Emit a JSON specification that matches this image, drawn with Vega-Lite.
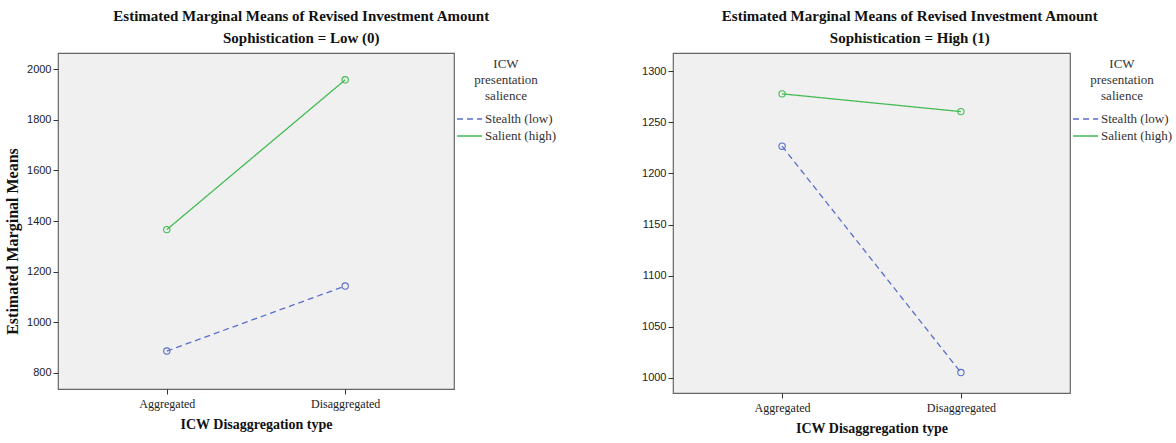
{
  "$schema": "https://vega.github.io/schema/vega-lite/v6.json",
  "padding": {"left": 3, "top": 8, "right": 2, "bottom": 4},
  "background": "white",
  "spacing": 77,
  "datasets": {
    "low": [
      {"type": "Aggregated", "salience": "Stealth (low)", "mean": 886},
      {"type": "Disaggregated", "salience": "Stealth (low)", "mean": 1143},
      {"type": "Aggregated", "salience": "Salient (high)", "mean": 1366},
      {"type": "Disaggregated", "salience": "Salient (high)", "mean": 1958}
    ],
    "high": [
      {"type": "Aggregated", "salience": "Stealth (low)", "mean": 1226.7},
      {"type": "Disaggregated", "salience": "Stealth (low)", "mean": 1005},
      {"type": "Aggregated", "salience": "Salient (high)", "mean": 1278},
      {"type": "Disaggregated", "salience": "Salient (high)", "mean": 1260.6}
    ]
  },
  "config": {
    "view": {"fill": "#f0f0f0", "stroke": "#666666", "strokeWidth": 1.2},
    "axis": {"domain": false, "grid": false, "tickColor": "#333333", "tickSize": 5, "titleFont": "Liberation Serif", "titleFontWeight": "bold", "titleFontSize": 14, "titleColor": "#111111"},
    "axisY": {"labelFont": "Liberation Sans", "labelFontSize": 11, "labelColor": "#222222", "labelPadding": 2, "format": "d"},
    "axisX": {"labelFont": "Liberation Serif", "labelFontSize": 12, "labelColor": "#222222", "labelAngle": 0, "labelPadding": 4, "titlePadding": 8},
    "title": {"font": "Liberation Serif", "fontSize": 15, "fontWeight": "bold", "color": "#111111", "subtitleFont": "Liberation Serif", "subtitleFontSize": 15, "subtitleFontWeight": "bold", "subtitleColor": "#111111", "subtitlePadding": 7, "frame": "bounds", "anchor": "middle", "offset": 7}
  },
  "hconcat": [
    {
      "title": {"text": "Estimated Marginal Means of Revised Investment Amount", "subtitle": "Sophistication = Low (0)", "dx": 18},
      "width": 396,
      "height": 336,
      "data": {"name": "low"},
      "encoding": {
        "x": {"field": "type", "type": "ordinal", "scale": {"type": "point", "padding": 0.61}, "title": "ICW Disaggregation type"},
        "y": {"field": "mean", "type": "quantitative", "scale": {"domain": [736, 2064], "nice": false, "zero": false}, "axis": {"values": [800, 1000, 1200, 1400, 1600, 1800, 2000], "titlePadding": 6, "titleFontSize": 16, "titleY": 188}, "title": "Estimated Marginal Means"},
        "color": {"field": "salience", "type": "nominal", "sort": ["Stealth (low)", "Salient (high)"], "scale": {"domain": ["Stealth (low)", "Salient (high)"], "range": ["#5a6fcc", "#44bb55"]}, "title": ["ICW", "presentation", "salience"],
          "legend": {"titleFont": "Liberation Serif", "titleFontSize": 13, "titleFontWeight": "normal", "titleColor": "#333333", "titleAlign": "center", "titleAnchor": "middle", "titleLineHeight": 16, "labelFont": "Liberation Serif", "labelFontSize": 13, "labelColor": "#333333", "symbolType": "M-1,0H2.6", "symbolSize": 196, "symbolStrokeWidth": 1.5, "symbolFillColor": "transparent", "offset": -3, "rowPadding": 2, "padding": 5, "titlePadding": 8, "labelOffset": 13}}
      },
      "layer": [
        {
          "mark": {"type": "line", "strokeWidth": 1.3},
          "encoding": {
            "strokeDash": {"field": "salience", "type": "nominal", "sort": ["Stealth (low)", "Salient (high)"], "scale": {"domain": ["Stealth (low)", "Salient (high)"], "range": [[6, 4], [1, 0]]}, "title": ["ICW", "presentation", "salience"],
              "legend": {"titleFont": "Liberation Serif", "titleFontSize": 13, "titleFontWeight": "normal", "titleColor": "#333333", "titleAlign": "center", "titleAnchor": "middle", "titleLineHeight": 16, "labelFont": "Liberation Serif", "labelFontSize": 13, "labelColor": "#333333", "symbolType": "M-1,0H2.6", "symbolSize": 196, "symbolStrokeWidth": 1.5, "symbolFillColor": "transparent", "offset": -3, "rowPadding": 2, "padding": 5, "titlePadding": 8, "labelOffset": 13}}
          }
        },
        {
          "mark": {"type": "point", "filled": false, "size": 40, "strokeWidth": 1.1, "opacity": 1}
        }
      ]
    },
    {
      "title": {"text": "Estimated Marginal Means of Revised Investment Amount", "subtitle": "Sophistication = High (1)"},
      "width": 397,
      "height": 340,
      "data": {"name": "high"},
      "encoding": {
        "x": {"field": "type", "type": "ordinal", "scale": {"type": "point", "padding": 0.61}, "title": "ICW Disaggregation type"},
        "y": {"field": "mean", "type": "quantitative", "scale": {"domain": [985, 1318], "nice": false, "zero": false}, "axis": {"values": [1000, 1050, 1100, 1150, 1200, 1250, 1300]}, "title": null},
        "color": {"field": "salience", "type": "nominal", "sort": ["Stealth (low)", "Salient (high)"], "scale": {"domain": ["Stealth (low)", "Salient (high)"], "range": ["#5a6fcc", "#44bb55"]}, "title": ["ICW", "presentation", "salience"],
          "legend": {"titleFont": "Liberation Serif", "titleFontSize": 13, "titleFontWeight": "normal", "titleColor": "#333333", "titleAlign": "center", "titleAnchor": "middle", "titleLineHeight": 16, "labelFont": "Liberation Serif", "labelFontSize": 13, "labelColor": "#333333", "symbolType": "M-1,0H2.6", "symbolSize": 196, "symbolStrokeWidth": 1.5, "symbolFillColor": "transparent", "offset": -3, "rowPadding": 2, "padding": 5, "titlePadding": 8, "labelOffset": 13}}
      },
      "layer": [
        {
          "mark": {"type": "line", "strokeWidth": 1.3},
          "encoding": {
            "strokeDash": {"field": "salience", "type": "nominal", "sort": ["Stealth (low)", "Salient (high)"], "scale": {"domain": ["Stealth (low)", "Salient (high)"], "range": [[6, 4], [1, 0]]}, "title": ["ICW", "presentation", "salience"],
              "legend": {"titleFont": "Liberation Serif", "titleFontSize": 13, "titleFontWeight": "normal", "titleColor": "#333333", "titleAlign": "center", "titleAnchor": "middle", "titleLineHeight": 16, "labelFont": "Liberation Serif", "labelFontSize": 13, "labelColor": "#333333", "symbolType": "M-1,0H2.6", "symbolSize": 196, "symbolStrokeWidth": 1.5, "symbolFillColor": "transparent", "offset": -3, "rowPadding": 2, "padding": 5, "titlePadding": 8, "labelOffset": 13}}
          }
        },
        {
          "mark": {"type": "point", "filled": false, "size": 40, "strokeWidth": 1.1, "opacity": 1}
        }
      ]
    }
  ],
  "resolve": {"scale": {"y": "independent", "x": "independent", "color": "independent", "strokeDash": "independent"}, "legend": {"color": "independent", "strokeDash": "independent"}}
}
